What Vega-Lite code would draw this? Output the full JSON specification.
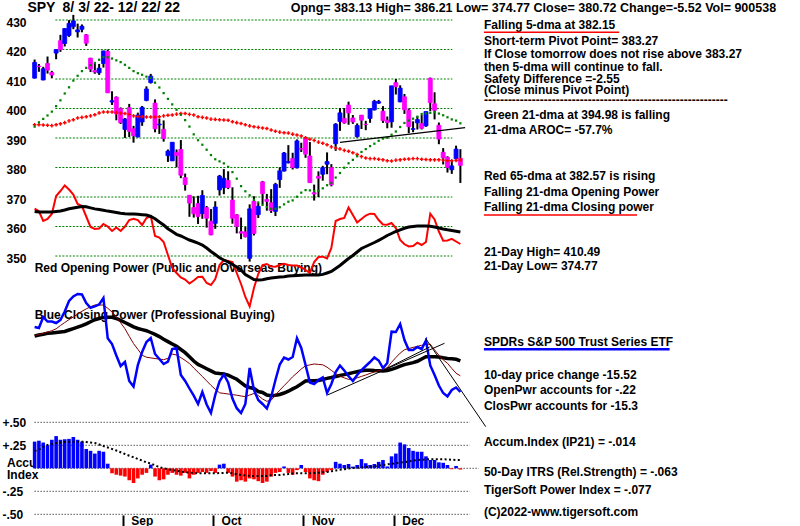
{
"$schema":"https://vega.github.io/schema/vega-lite/v6.json",
"width":800,"height":526,"padding":0,"autosize":{"type":"none"},
"background":"white",
"config":{"view":{"stroke":null},"text":{"font":"Liberation Sans"}},
"datasets":{
"bars":[
{"i":0,"o":410.30,"h":416.61,"l":410.17,"c":415.63,"m21":393.84,"m65":394.5,"op":5.13,"opm":4.85,"cp":7.3,"cpm":6.4,"cps":6.45,"ac":0.29,"acm":0.188},
{"i":1,"o":414.37,"h":415.09,"l":412.44,"c":414.17,"m21":395.32,"m65":394.5,"op":4.87,"opm":4.8,"cp":7.2,"cpm":6.5,"cps":6.55,"ac":0.30,"acm":0.204},
{"i":2,"o":409.66,"h":414.15,"l":409.60,"c":413.47,"m21":396.48,"m65":394.4,"op":3.9,"opm":4.8,"cp":8.3,"cpm":6.58,"cps":6.67,"ac":0.28,"acm":0.232},
{"i":3,"o":415.25,"h":417.62,"l":411.83,"c":412.99,"m21":397.64,"m65":394.3,"op":4.1,"opm":4.8,"cp":7.85,"cpm":6.67,"cps":6.8,"ac":0.25,"acm":0.253},
{"i":4,"o":412.22,"h":412.75,"l":410.22,"c":411.35,"m21":398.93,"m65":394.2,"op":4.6,"opm":4.8,"cp":7.85,"cpm":6.7,"cps":6.93,"ac":0.31,"acm":0.264},
{"i":5,"o":418.78,"h":420.03,"l":416.70,"c":419.99,"m21":400.80,"m65":394.5,"op":6.4,"opm":4.85,"cp":7.7,"cpm":6.75,"cps":7.12,"ac":0.35,"acm":0.273},
{"i":6,"o":422.99,"h":424.96,"l":419.21,"c":419.99,"m21":402.76,"m65":394.8,"op":6.9,"opm":4.9,"cp":8.0,"cpm":6.8,"cps":7.45,"ac":0.31,"acm":0.28},
{"i":7,"o":422.03,"h":427.21,"l":421.03,"c":427.10,"m21":405.10,"m65":395.2,"op":7.45,"opm":5.0,"cp":8.85,"cpm":6.85,"cps":7.75,"ac":0.315,"acm":0.286},
{"i":8,"o":424.77,"h":429.96,"l":424.28,"c":428.86,"m21":407.18,"m65":395.8,"op":7.05,"opm":5.12,"cp":9.9,"cpm":7.0,"cps":8.04,"ac":0.32,"acm":0.289},
{"i":9,"o":427.73,"h":431.73,"l":426.88,"c":429.70,"m21":409.46,"m65":396.2,"op":6.55,"opm":5.2,"cp":10.35,"cpm":7.14,"cps":8.3,"ac":0.34,"acm":0.289},
{"i":10,"o":425.98,"h":428.77,"l":424.07,"c":426.65,"m21":411.09,"m65":396.8,"op":5.6,"opm":5.28,"cp":10.6,"cpm":7.29,"cps":8.6,"ac":0.31,"acm":0.289},
{"i":11,"o":426.86,"h":428.49,"l":425.84,"c":427.89,"m21":412.67,"m65":397.0,"op":5.4,"opm":5.34,"cp":10.55,"cpm":7.43,"cps":8.87,"ac":0.29,"acm":0.289},
{"i":12,"o":424.98,"h":425.26,"l":421.22,"c":422.14,"m21":413.78,"m65":397.2,"op":4.35,"opm":5.32,"cp":9.7,"cpm":7.61,"cps":9.11,"ac":0.21,"acm":0.286},
{"i":13,"o":417.05,"h":417.19,"l":412.39,"c":413.35,"m21":414.65,"m65":397.5,"op":3.3,"opm":5.21,"cp":9.22,"cpm":7.83,"cps":9.33,"ac":0.19,"acm":0.28},
{"i":14,"o":412.90,"h":415.42,"l":411.77,"c":412.35,"m21":415.45,"m65":397.9,"op":3.1,"opm":5.11,"cp":9.36,"cpm":8.03,"cps":9.5,"ac":0.16,"acm":0.275},
{"i":15,"o":412.11,"h":415.11,"l":411.39,"c":413.67,"m21":416.53,"m65":398.5,"op":3.15,"opm":5.04,"cp":9.55,"cpm":8.15,"cps":9.5,"ac":0.19,"acm":0.259},
{"i":16,"o":415.24,"h":419.56,"l":413.88,"c":419.51,"m21":417.41,"m65":398.8,"op":3.6,"opm":4.97,"cp":10.2,"cpm":8.26,"cps":9.5,"ac":0.18,"acm":0.242},
{"i":17,"o":419.39,"h":419.96,"l":405.25,"c":405.31,"m21":417.38,"m65":398.8,"op":3.35,"opm":4.89,"cp":6.17,"cpm":8.27,"cps":9.17,"ac":0.05,"acm":0.226},
{"i":18,"o":402.20,"h":405.84,"l":401.20,"c":402.63,"m21":416.93,"m65":398.8,"op":2.9,"opm":4.82,"cp":5.6,"cpm":8.27,"cps":8.8,"ac":-0.054,"acm":0.21},
{"i":19,"o":403.85,"h":404.10,"l":396.00,"c":398.21,"m21":416.33,"m65":398.6,"op":3.25,"opm":4.75,"cp":4.45,"cpm":8.15,"cps":8.32,"ac":-0.07,"acm":0.193},
{"i":20,"o":399.92,"h":400.38,"l":394.75,"c":395.18,"m21":415.72,"m65":398.4,"op":2.9,"opm":4.68,"cp":3.4,"cpm":7.96,"cps":7.72,"ac":-0.08,"acm":0.174},
{"i":21,"o":392.89,"h":396.78,"l":390.04,"c":396.42,"m21":414.81,"m65":398.3,"op":3.35,"opm":4.62,"cp":3.8,"cpm":7.75,"cps":7.13,"ac":-0.09,"acm":0.155},
{"i":22,"o":400.28,"h":401.56,"l":390.33,"c":392.24,"m21":413.76,"m65":398.0,"op":4.0,"opm":4.61,"cp":1.9,"cpm":7.54,"cps":6.37,"ac":-0.13,"acm":0.137},
{"i":23,"o":393.13,"h":394.12,"l":388.42,"c":390.76,"m21":412.68,"m65":397.5,"op":4.13,"opm":4.59,"cp":1.35,"cpm":7.32,"cps":5.64,"ac":-0.16,"acm":0.12},
{"i":24,"o":390.37,"h":398.59,"l":390.20,"c":397.78,"m21":411.96,"m65":397.3,"op":4.0,"opm":4.57,"cp":3.5,"cpm":7.15,"cps":5.07,"ac":-0.11,"acm":0.101},
{"i":25,"o":395.43,"h":400.86,"l":394.12,"c":400.38,"m21":411.43,"m65":397.2,"op":3.5,"opm":4.53,"cp":4.8,"cpm":7.04,"cps":4.48,"ac":-0.07,"acm":0.084},
{"i":26,"o":402.74,"h":407.51,"l":402.46,"c":406.60,"m21":410.80,"m65":397.1,"op":4.2,"opm":4.49,"cp":5.8,"cpm":6.93,"cps":4.28,"ac":-0.05,"acm":0.065},
{"i":27,"o":408.78,"h":411.73,"l":408.46,"c":410.97,"m21":410.37,"m65":397.1,"op":4.4,"opm":4.35,"cp":6.2,"cpm":6.75,"cps":4.21,"ac":0.04,"acm":0.051},
{"i":28,"o":401.83,"h":403.10,"l":391.93,"c":393.10,"m21":408.75,"m65":397.1,"op":2.4,"opm":4.12,"cp":4.6,"cpm":6.56,"cps":4.15,"ac":-0.09,"acm":0.033},
{"i":29,"o":394.47,"h":396.55,"l":391.38,"c":394.69,"m21":407.12,"m65":397.2,"op":2.25,"opm":3.8,"cp":4.1,"cpm":6.34,"cps":4.09,"ac":-0.13,"acm":0.014},
{"i":30,"o":392.96,"h":395.96,"l":388.77,"c":389.79,"m21":405.22,"m65":397.5,"op":1.8,"opm":3.5,"cp":3.6,"cpm":6.08,"cps":4.03,"ac":-0.12,"acm":-0.001},
{"i":31,"o":384.00,"h":386.10,"l":381.90,"c":385.56,"m21":403.26,"m65":397.7,"op":0.5,"opm":3.13,"cp":3.83,"cpm":5.84,"cps":4.17,"ac":-0.07,"acm":-0.01},
{"i":32,"o":382.26,"h":388.55,"l":382.18,"c":388.55,"m21":401.39,"m65":397.8,"op":-0.8,"opm":2.85,"cp":5.1,"cpm":5.6,"cps":4.6,"ac":-0.05,"acm":-0.02},
{"i":33,"o":385.06,"h":386.12,"l":380.07,"c":384.09,"m21":399.58,"m65":398.1,"op":-1.3,"opm":2.57,"cp":5.2,"cpm":5.37,"cps":4.5,"ac":-0.07,"acm":-0.027},
{"i":34,"o":386.11,"h":389.31,"l":376.38,"c":377.39,"m21":397.87,"m65":398.3,"op":-1.75,"opm":2.4,"cp":2.5,"cpm":5.05,"cps":4.24,"ac":-0.08,"acm":-0.035},
{"i":35,"o":376.58,"h":377.95,"l":372.17,"c":374.22,"m21":396.05,"m65":398.3,"op":-1.95,"opm":2.2,"cp":1.9,"cpm":4.73,"cps":3.96,"ac":-0.05,"acm":-0.042},
{"i":36,"o":370.58,"h":370.62,"l":363.29,"c":367.95,"m21":393.87,"m65":398.0,"op":-2.35,"opm":2.0,"cp":1.15,"cpm":4.32,"cps":3.65,"ac":-0.11,"acm":-0.048},
{"i":37,"o":366.41,"h":370.21,"l":363.03,"c":364.31,"m21":391.24,"m65":397.8,"op":-2.05,"opm":1.85,"cp":0.43,"cpm":3.9,"cps":3.2,"ac":-0.07,"acm":-0.051},
{"i":38,"o":367.76,"h":370.40,"l":360.87,"c":363.38,"m21":389.25,"m65":397.2,"op":-1.7,"opm":1.68,"cp":-0.4,"cpm":3.56,"cps":2.78,"ac":-0.05,"acm":-0.053},
{"i":39,"o":364.38,"h":372.30,"l":362.60,"c":370.53,"m21":387.72,"m65":397.0,"op":-1.67,"opm":1.5,"cp":0.8,"cpm":3.35,"cps":2.35,"ac":-0.04,"acm":-0.054},
{"i":40,"o":366.39,"h":366.96,"l":359.62,"c":362.79,"m21":386.03,"m65":396.8,"op":-2.3,"opm":1.2,"cp":-0.45,"cpm":3.13,"cps":1.91,"ac":-0.05,"acm":-0.054},
{"i":41,"o":361.80,"h":365.91,"l":357.04,"c":357.18,"m21":384.22,"m65":396.4,"op":-2.5,"opm":0.85,"cp":-1.3,"cpm":2.91,"cps":1.47,"ac":-0.03,"acm":-0.054},
{"i":42,"o":361.08,"h":368.55,"l":359.21,"c":366.61,"m21":382.80,"m65":396.3,"op":-1.9,"opm":0.55,"cp":0.5,"cpm":2.69,"cps":1.07,"ac":-0.05,"acm":-0.054},
{"i":43,"o":372.40,"h":377.49,"l":370.49,"c":377.09,"m21":382.08,"m65":396.2,"op":-0.5,"opm":0.22,"cp":1.87,"cpm":2.64,"cps":0.72,"ac":0.04,"acm":-0.052},
{"i":44,"o":373.17,"h":379.46,"l":370.95,"c":376.35,"m21":381.40,"m65":396.1,"op":0,"opm":0,"cp":2.55,"cpm":2.61,"cps":0.66,"ac":0.05,"acm":-0.05},
{"i":45,"o":375.62,"h":378.72,"l":372.68,"c":373.20,"m21":380.23,"m65":396.0,"op":-0.1,"opm":-0.2,"cp":1.75,"cpm":2.49,"cps":0.6,"ac":-0.05,"acm":-0.048},
{"i":46,"o":368.97,"h":373.29,"l":360.94,"c":362.79,"m21":378.44,"m65":395.5,"op":-0.2,"opm":-0.45,"cp":0.15,"cpm":2.28,"cps":0.54,"ac":-0.09,"acm":-0.054},
{"i":47,"o":363.96,"h":364.21,"l":357.67,"c":360.02,"m21":376.22,"m65":395.2,"op":-1.3,"opm":-0.7,"cp":-0.82,"cpm":2.07,"cps":0.48,"ac":-0.145,"acm":-0.064},
{"i":48,"o":358.24,"h":363.03,"l":355.71,"c":357.74,"m21":373.68,"m65":394.9,"op":-2.4,"opm":-1.0,"cp":-1.3,"cpm":1.73,"cps":0.4,"ac":-0.13,"acm":-0.072},
{"i":49,"o":358.17,"h":359.82,"l":356.30,"c":356.56,"m21":371.94,"m65":394.5,"op":-3.7,"opm":-1.45,"cp":-0.4,"cpm":1.4,"cps":0.34,"ac":-0.145,"acm":-0.077},
{"i":50,"o":349.21,"h":367.51,"l":348.11,"c":365.97,"m21":370.57,"m65":394.1,"op":-4.65,"opm":-1.7,"cp":3.2,"cpm":1.25,"cps":0.5,"ac":-0.11,"acm":-0.082},
{"i":51,"o":368.55,"h":370.26,"l":356.96,"c":357.63,"m21":369.04,"m65":393.8,"op":-2.8,"opm":-1.95,"cp":1.0,"cpm":1.15,"cps":0.65,"ac":-0.12,"acm":-0.084},
{"i":52,"o":364.01,"h":367.98,"l":362.90,"c":366.82,"m21":368.15,"m65":393.6,"op":-1.4,"opm":-2.0,"cp":0,"cpm":0.85,"cps":0.45,"ac":-0.14,"acm":-0.084},
{"i":53,"o":375.13,"h":375.45,"l":367.52,"c":371.13,"m21":367.32,"m65":393.4,"op":-0.5,"opm":-1.97,"cp":-0.4,"cpm":0.75,"cps":0.1,"ac":-0.16,"acm":-0.084},
{"i":54,"o":369.20,"h":371.06,"l":365.36,"c":368.50,"m21":366.58,"m65":393.2,"op":-0.4,"opm":-1.87,"cp":-0.85,"cpm":0.5,"cps":-0.13,"ac":-0.145,"acm":-0.084},
{"i":55,"o":368.03,"h":372.67,"l":364.61,"c":365.41,"m21":366.01,"m65":392.7,"op":-0.65,"opm":-1.8,"cp":0.3,"cpm":0.43,"cps":-0.02,"ac":-0.09,"acm":-0.075},
{"i":56,"o":365.12,"h":374.80,"l":363.54,"c":374.29,"m21":366.01,"m65":392.3,"op":-0.67,"opm":-1.75,"cp":2.0,"cpm":0.47,"cps":0.5,"ac":-0.05,"acm":-0.073},
{"i":57,"o":375.89,"h":380.06,"l":373.11,"c":378.87,"m21":366.53,"m65":392.0,"op":-0.5,"opm":-1.7,"cp":3.55,"cpm":0.55,"cps":0.98,"ac":-0.04,"acm":-0.073},
{"i":58,"o":378.79,"h":385.25,"l":378.67,"c":384.92,"m21":367.51,"m65":391.8,"op":-0.37,"opm":-1.67,"cp":4.25,"cpm":0.7,"cps":1.43,"ac":0.02,"acm":-0.067},
{"i":59,"o":381.62,"h":387.58,"l":381.35,"c":382.02,"m21":368.40,"m65":391.7,"op":-0.5,"opm":-1.6,"cp":4.05,"cpm":0.88,"cps":1.86,"ac":-0.05,"acm":-0.062},
{"i":60,"o":383.07,"h":385.00,"l":379.33,"c":379.98,"m21":368.85,"m65":391.3,"op":-0.55,"opm":-1.57,"cp":4.3,"cpm":1.11,"cps":2.33,"ac":-0.07,"acm":-0.057},
{"i":61,"o":379.87,"h":389.52,"l":379.68,"c":389.02,"m21":370.10,"m65":391.0,"op":-0.55,"opm":-1.55,"cp":6.17,"cpm":1.32,"cps":2.7,"ac":-0.02,"acm":-0.054},
{"i":62,"o":386.44,"h":388.40,"l":385.26,"c":386.21,"m21":371.48,"m65":390.7,"op":-0.75,"opm":-1.53,"cp":5.2,"cpm":1.61,"cps":3.1,"ac":0.036,"acm":-0.054},
{"i":63,"o":390.14,"h":390.39,"l":383.29,"c":384.52,"m21":372.34,"m65":390.1,"op":-1.0,"opm":-1.51,"cp":3.5,"cpm":1.9,"cps":3.42,"ac":-0.04,"acm":-0.054},
{"i":64,"o":383.90,"h":388.63,"l":374.76,"c":374.87,"m21":372.23,"m65":389.6,"op":-1.3,"opm":-1.5,"cp":1.75,"cpm":1.93,"cps":3.51,"ac":-0.11,"acm":-0.054},
{"i":65,"o":371.47,"h":374.20,"l":368.79,"c":371.01,"m21":371.98,"m65":389.2,"op":-0.2,"opm":-1.5,"cp":1.6,"cpm":1.93,"cps":3.6,"ac":-0.13,"acm":-0.051},
{"i":66,"o":377.00,"h":378.70,"l":370.00,"c":376.35,"m21":372.13,"m65":388.6,"op":0.3,"opm":-1.5,"cp":2.0,"cpm":1.94,"cps":3.56,"ac":-0.14,"acm":-0.048},
{"i":67,"o":377.71,"h":380.57,"l":375.53,"c":379.95,"m21":372.94,"m65":388.2,"op":0.33,"opm":-1.44,"cp":2.25,"cpm":2.05,"cps":3.52,"ac":-0.07,"acm":-0.043},
{"i":68,"o":381.11,"h":385.12,"l":377.72,"c":382.00,"m21":373.99,"m65":387.7,"op":0.15,"opm":-1.3,"cp":0.7,"cpm":2.16,"cps":3.28,"ac":-0.04,"acm":-0.04},
{"i":69,"o":379.93,"h":381.14,"l":373.61,"c":374.13,"m21":374.77,"m65":387.0,"op":1.2,"opm":-1.15,"cp":1.6,"cpm":2.25,"cps":2.96,"ac":-0.02,"acm":-0.033},
{"i":70,"o":388.05,"h":395.04,"l":385.64,"c":394.69,"m21":376.59,"m65":386.6,"op":3.9,"opm":-0.85,"cp":2.8,"cpm":2.35,"cps":2.64,"ac":0.07,"acm":-0.024},
{"i":71,"o":395.59,"h":400.17,"l":392.43,"c":398.51,"m21":378.13,"m65":386.3,"op":4.1,"opm":-0.55,"cp":3.45,"cpm":2.45,"cps":2.38,"ac":0.05,"acm":-0.016},
{"i":72,"o":396.66,"h":400.18,"l":394.83,"c":395.12,"m21":379.92,"m65":385.8,"op":4.2,"opm":-0.2,"cp":2.95,"cpm":2.54,"cps":2.21,"ac":0.036,"acm":-0.01},
{"i":73,"o":401.15,"h":402.31,"l":394.49,"c":398.49,"m21":381.43,"m65":385.5,"op":5.25,"opm":0.15,"cp":2.37,"cpm":2.63,"cps":2.06,"ac":0.047,"acm":-0.002},
{"i":74,"o":396.78,"h":397.78,"l":394.79,"c":395.45,"m21":382.59,"m65":385.0,"op":4.5,"opm":0.45,"cp":1.9,"cpm":2.74,"cps":2.07,"ac":0.018,"acm":0.003},
{"i":75,"o":390.46,"h":394.95,"l":390.14,"c":394.24,"m21":383.81,"m65":384.4,"op":3.75,"opm":0.8,"cp":2.5,"cpm":2.83,"cps":2.22,"ac":0.036,"acm":0.007},
{"i":76,"o":397.74,"h":397.81,"l":393.04,"c":396.03,"m21":385.27,"m65":383.7,"op":4.1,"opm":1.15,"cp":3.0,"cpm":2.92,"cps":2.36,"ac":0.1,"acm":0.011},
{"i":77,"o":394.64,"h":395.82,"l":392.66,"c":394.59,"m21":386.24,"m65":383.2,"op":4.45,"opm":1.35,"cp":3.4,"cpm":2.98,"cps":2.5,"ac":0.055,"acm":0.014},
{"i":78,"o":396.63,"h":400.07,"l":395.15,"c":399.90,"m21":387.24,"m65":383.0,"op":4.63,"opm":1.55,"cp":3.8,"cpm":2.98,"cps":2.66,"ac":0.036,"acm":0.017},
{"i":79,"o":399.55,"h":402.93,"l":399.31,"c":402.42,"m21":388.07,"m65":383.0,"op":4.6,"opm":1.75,"cp":4.25,"cpm":2.95,"cps":2.8,"ac":0.047,"acm":0.023},
{"i":80,"o":401.83,"h":402.91,"l":401.54,"c":402.33,"m21":389.04,"m65":382.8,"op":4.0,"opm":1.97,"cp":3.95,"cpm":2.93,"cps":2.95,"ac":0.07,"acm":0.029},
{"i":81,"o":399.09,"h":400.81,"l":395.11,"c":395.91,"m21":389.80,"m65":382.6,"op":3.55,"opm":2.2,"cp":3.2,"cpm":2.9,"cps":3.07,"ac":0.09,"acm":0.036},
{"i":82,"o":396.05,"h":397.30,"l":393.30,"c":395.23,"m21":390.09,"m65":382.3,"op":3.53,"opm":2.45,"cp":3.7,"cpm":2.95,"cps":3.23,"ac":0.02,"acm":0.042},
{"i":83,"o":395.49,"h":407.68,"l":393.48,"c":407.68,"m21":391.12,"m65":382.2,"op":3.7,"opm":2.65,"cp":6.83,"cpm":3.06,"cps":3.77,"ac":0.13,"acm":0.049},
{"i":84,"o":408.77,"h":410.00,"l":404.75,"c":407.38,"m21":392.20,"m65":382.5,"op":3.2,"opm":2.85,"cp":6.8,"cpm":3.21,"cps":4.25,"ac":0.16,"acm":0.055},
{"i":85,"o":402.25,"h":407.86,"l":402.14,"c":406.91,"m21":393.73,"m65":382.6,"op":2.0,"opm":3.02,"cp":7.6,"cpm":3.38,"cps":4.69,"ac":0.28,"acm":0.062},
{"i":86,"o":403.95,"h":404.93,"l":398.17,"c":399.59,"m21":395.09,"m65":382.8,"op":1.57,"opm":3.17,"cp":6.0,"cpm":3.54,"cps":5.03,"ac":0.26,"acm":0.068},
{"i":87,"o":399.42,"h":399.99,"l":391.64,"c":393.83,"m21":395.92,"m65":382.9,"op":1.35,"opm":3.3,"cp":5.0,"cpm":3.64,"cps":5.15,"ac":0.22,"acm":0.075},
{"i":88,"o":392.94,"h":395.64,"l":391.97,"c":393.16,"m21":396.55,"m65":383.0,"op":1.4,"opm":3.35,"cp":5.0,"cpm":3.74,"cps":5.26,"ac":0.19,"acm":0.084},
{"i":89,"o":395.14,"h":397.36,"l":392.87,"c":396.24,"m21":397.23,"m65":383.0,"op":1.73,"opm":3.4,"cp":5.3,"cpm":3.87,"cps":5.37,"ac":0.18,"acm":0.09},
{"i":90,"o":394.94,"h":397.76,"l":392.90,"c":393.28,"m21":398.14,"m65":382.8,"op":1.5,"opm":3.4,"cp":5.1,"cpm":4.1,"cps":5.47,"ac":0.18,"acm":0.093},
{"i":91,"o":394.11,"h":398.99,"l":393.80,"c":398.95,"m21":398.34,"m65":382.7,"op":1.8,"opm":3.4,"cp":5.95,"cpm":4.32,"cps":5.57,"ac":0.13,"acm":0.097},
{"i":92,"o":410.22,"h":410.49,"l":399.07,"c":401.97,"m21":398.51,"m65":382.6,"op":4.63,"opm":3.38,"cp":3.45,"cpm":4.33,"cps":5.58,"ac":0.09,"acm":0.098},
{"i":93,"o":401.61,"h":405.50,"l":396.31,"c":399.40,"m21":398.71,"m65":382.6,"op":4.05,"opm":3.3,"cp":2.5,"cpm":4.33,"cps":5.02,"ac":0.09,"acm":0.098},
{"i":94,"o":394.30,"h":395.25,"l":387.89,"c":389.63,"m21":398.29,"m65":382.6,"op":2.85,"opm":3.2,"cp":1.45,"cpm":4.29,"cps":4.47,"ac":0.065,"acm":0.098},
{"i":95,"o":385.18,"h":386.58,"l":381.04,"c":383.27,"m21":397.71,"m65":382.5,"op":1.93,"opm":3.1,"cp":0.7,"cpm":4.22,"cps":4.02,"ac":0.06,"acm":0.098},
{"i":96,"o":383.47,"h":383.82,"l":378.28,"c":380.02,"m21":397.03,"m65":382.3,"op":1.95,"opm":3.02,"cp":0.35,"cpm":4.16,"cps":3.67,"ac":0.036,"acm":0.096},
{"i":97,"o":379.23,"h":382.23,"l":377.85,"c":380.54,"m21":396.30,"m65":382.3,"op":2.11,"opm":2.95,"cp":1.0,"cpm":4.12,"cps":3.16,"ac":-0.01,"acm":0.093},
{"i":98,"o":382.98,"h":387.41,"l":382.66,"c":386.23,"m21":395.90,"m65":382.4,"op":1.85,"opm":2.88,"cp":1.25,"cpm":4.07,"cps":2.68,"ac":0.025,"acm":0.09},
{"i":99,"o":383.13,"h":386.21,"l":374.77,"c":380.72,"m21":394.98,"m65":382.57,"op":1.6,"opm":2.8,"cp":0.8,"cpm":3.92,"cps":2.42,"ac":-0.014,"acm":0.09}
],
"grid":[{"i":4.82,"i2":97.13,"p":350},{"i":4.82,"i2":97.13,"p":360},{"i":4.82,"i2":97.13,"p":370},{"i":4.82,"i2":97.13,"p":380},{"i":4.82,"i2":97.13,"p":390},{"i":4.82,"i2":97.13,"p":400},{"i":4.82,"i2":97.13,"p":410},{"i":4.82,"i2":97.13,"p":420},{"i":4.82,"i2":97.13,"p":430}],
"accref":[{"i":0,"i2":101.2,"v":0.5},{"i":0,"i2":101.2,"v":0.25},{"i":0,"i2":103.3,"v":0},{"i":0,"i2":101.2,"v":-0.25},{"i":0,"i2":101.2,"v":-0.5}],
"ltext":[{"i":0,"p":345.83,"t":"Red Opening Power (Public and Overseas Buying)"},{"i":0,"p":330.0,"t":"Blue Closing Power (Professional Buying)"},{"i":-6.43,"p":279.73,"t":"Accu"},{"i":-6.43,"p":275.76,"t":"Index"}],
"spytext":[{"i":-1.68,"p":434.2,"t":"SPY"},{"i":6.5,"p":434.2,"t":"8/ 3/ 22- 12/ 22/ 22"}],
"toptext":[{"i":59.54,"p":434.2,"t":"Opng= 383.13 High= 386.21 Low= 374.77 Close= 380.72 Change=-5.52 Vol= 900538"}],
"rtext":[
{"i":104.47,"p":428.31,"t":"Falling 5-dma at 382.15"},
{"i":104.47,"p":422.88,"t":"Short-term Pivot Point= 383.27"},
{"i":104.47,"p":418.47,"t":"If Close tomorrow does not rise above 383.27"},
{"i":104.47,"p":414.17,"t":"then 5-dma will continue to fall."},
{"i":104.47,"p":410.10,"t":"Safety Difference =-2.55"},
{"i":104.47,"p":406.37,"t":" (Close minus Pivot Point)"},
{"i":104.47,"p":403.0,"t":"-------------------------------------------------------------"},
{"i":104.47,"p":397.80,"t":"Green 21-dma at  394.98 is falling"},
{"i":104.47,"p":392.71,"t":"21-dma AROC= -57.7%"},
{"i":104.47,"p":377.12,"t":"Red 65-dma at  382.57 is rising"},
{"i":104.47,"p":371.69,"t":"Falling 21-dma Opening Power"},
{"i":104.47,"p":366.61,"t":"Falling 21-dma Closing power"},
{"i":104.47,"p":351.36,"t":"21-Day High= 410.49"},
{"i":104.47,"p":346.61,"t":"21-Day Low= 374.77"},
{"i":104.47,"p":320.95,"t":"SPDRs S&P 500 Trust Series ETF"},
{"i":104.47,"p":309.66,"t":"  10-day price change -15.52"},
{"i":104.47,"p":304.58,"t":"  OpenPwr accounts for -.22"},
{"i":104.47,"p":299.25,"t":"  ClosPwr accounts for -15.3"},
{"i":104.47,"p":287.05,"t":"Accum.Index (IP21) = -.014"},
{"i":104.47,"p":276.88,"t":"50-Day ITRS (Rel.Strength) = -.063"},
{"i":104.47,"p":270.68,"t":"TigerSoft Power Index = -.077"},
{"i":104.47,"p":263.32,"t":"(C)2022-www.tigersoft.com"}
],
"uline":[{"i":104.47,"i2":135.94,"p":425.83,"k":"r"},{"i":104.47,"i2":140.07,"p":363.9,"k":"r"},{"i":104.47,"i2":147.65,"p":318.37,"k":"b"}],
"ptrend":[{"i":71.0,"p":388.54},{"i":100.1,"p":393.49}],
"cptrend":[{"g":1,"i":68.1,"v":0.5},{"g":1,"i":95.3,"v":5.67},{"g":2,"i":81.9,"v":3.17},{"g":2,"i":91.85,"v":5.3},{"g":3,"i":90.9,"v":6.17},{"g":3,"i":104.9,"v":-2.67}]
},
"encoding":{"x":{"field":"i","type":"quantitative","scale":{"domain":[-6.889,176.81],"nice":false,"zero":false},
 "axis":{"orient":"bottom","offset":-11,"values":[20.5,41.5,62.5,83.5],"labelExpr":"datum.value < 30 ? 'Sep' : datum.value < 50 ? 'Oct' : datum.value < 70 ? 'Nov' : 'Dec'","domain":false,"grid":false,"ticks":true,"tickSize":11,"tickWidth":2,"tickColor":"black","labelAlign":"left","labelBaseline":"middle","labelPadding":-6,"labelOffset":8,"labelFont":"Liberation Sans","labelFontSize":12,"labelFontWeight":"bold","labelColor":"black","labelFlush":false,"labelOverlap":false,"title":null}}},
"layer":[
{"data":{"name":"grid"},"mark":{"type":"rule","color":"#008000","strokeWidth":1,"strokeDash":[2,1.5]},
 "encoding":{"x2":{"field":"i2"},"y":{"field":"p","type":"quantitative","scale":{"domain":[258.475,436.78],"nice":false,"zero":false},
  "axis":{"orient":"left","offset":-6,"values":[350,360,370,380,390,400,410,420,430],"domain":false,"ticks":false,"tickSize":0,"grid":false,"labelAlign":"left","labelBaseline":"middle","labelPadding":0,"labelOffset":2,"labelFont":"Liberation Sans","labelFontSize":12,"labelFontWeight":"bold","labelColor":"black","labelFlush":false,"labelOverlap":false,"title":null}}}},
{"data":{"name":"accref"},"mark":{"type":"rule","color":"black","strokeWidth":1,"strokeDash":[1,2]},
 "encoding":{"x2":{"field":"i2"},"y":{"field":"v","type":"quantitative","scale":{"domain":[-0.6272,5.0902],"nice":false,"zero":false},
  "axis":{"orient":"left","offset":-2,"values":[0.5,0.25,-0.25,-0.5],"labelExpr":"(datum.value > 0 ? '+' : '-') + (abs(datum.value) > 0.4 ? '.50' : '.25')","domain":false,"ticks":false,"tickSize":0,"grid":false,"labelAlign":"left","labelBaseline":"middle","labelPadding":0,"labelFont":"Liberation Sans","labelFontSize":12,"labelFontWeight":"bold","labelColor":"black","labelFlush":false,"labelOverlap":false,"title":null}}}},
{"data":{"name":"ltext"},"mark":{"type":"text","align":"left","baseline":"middle","font":"Liberation Sans","fontSize":12,"fontWeight":"bold","color":"black"},
 "encoding":{"y":{"field":"p","type":"quantitative","scale":{"domain":[258.475,436.78],"nice":false,"zero":false},"axis":null},"text":{"field":"t"}}},
{"data":{"name":"bars"},"mark":{"type":"line","color":"#ff0000","strokeWidth":2},
 "encoding":{"y":{"field":"op","type":"quantitative","scale":{"domain":[-26.6,26],"nice":false,"zero":false},"axis":null}}},
{"data":{"name":"bars"},"mark":{"type":"line","color":"black","strokeWidth":3},
 "encoding":{"y":{"field":"opm","type":"quantitative","scale":{"domain":[-26.6,26],"nice":false,"zero":false},"axis":null}}},
{"data":{"name":"bars"},"mark":{"type":"line","color":"black","strokeWidth":3.5},
 "encoding":{"y":{"field":"cpm","type":"quantitative","scale":{"domain":[-12.6,40],"nice":false,"zero":false},"axis":null}}},
{"data":{"name":"bars"},"mark":{"type":"line","color":"#800000","strokeWidth":1},
 "encoding":{"y":{"field":"cps","type":"quantitative","scale":{"domain":[-12.6,40],"nice":false,"zero":false},"axis":null}}},
{"data":{"name":"bars"},"mark":{"type":"line","color":"#0000ff","strokeWidth":2.5},
 "encoding":{"y":{"field":"cp","type":"quantitative","scale":{"domain":[-12.6,40],"nice":false,"zero":false},"axis":null}}},
{"data":{"name":"cptrend"},"mark":{"type":"line","color":"black","strokeWidth":1},
 "encoding":{"detail":{"field":"g"},"y":{"field":"v","type":"quantitative","scale":{"domain":[-12.6,40],"nice":false,"zero":false},"axis":null}}},
{"data":{"name":"bars"},"mark":{"type":"rule","color":"black","strokeWidth":2},
 "encoding":{"y":{"field":"h","type":"quantitative","scale":{"domain":[258.475,436.78],"nice":false,"zero":false},"axis":null},"y2":{"field":"l"}}},
{"data":{"name":"bars"},"mark":{"type":"bar","width":4,"orient":"vertical","strokeWidth":0.8},
 "encoding":{"y":{"field":"o","type":"quantitative","scale":{"domain":[258.475,436.78],"nice":false,"zero":false},"axis":null},"y2":{"field":"c"},
  "color":{"condition":{"test":"datum.c >= datum.o","value":"#0000ff"},"value":"#ff00ff"},
  "stroke":{"condition":{"test":"datum.c >= datum.o","value":"#0000ff"},"value":"#ff00ff"}}},
{"data":{"name":"bars"},"mark":{"type":"point","shape":"cross","filled":true,"color":"#ff0000","size":13,"opacity":1},
 "encoding":{"y":{"field":"m65","type":"quantitative","scale":{"domain":[258.475,436.78],"nice":false,"zero":false},"axis":null}}},
{"data":{"name":"bars"},"mark":{"type":"point","shape":"square","filled":true,"color":"#008000","size":5,"opacity":1},
 "encoding":{"y":{"field":"m21","type":"quantitative","scale":{"domain":[258.475,436.78],"nice":false,"zero":false},"axis":null}}},
{"data":{"name":"ptrend"},"mark":{"type":"line","color":"black","strokeWidth":1.2},
 "encoding":{"y":{"field":"p","type":"quantitative","scale":{"domain":[258.475,436.78],"nice":false,"zero":false},"axis":null}}},
{"data":{"name":"bars"},"mark":{"type":"bar","width":3.6,"orient":"vertical"},
 "encoding":{"y":{"field":"ac","type":"quantitative","scale":{"domain":[-0.6272,5.0902],"nice":false,"zero":false},"axis":null},"y2":{"datum":0},
  "color":{"condition":{"test":"datum.ac >= 0","value":"#0000ff"},"value":"#ff0000"}}},
{"data":{"name":"bars"},"mark":{"type":"line","color":"black","strokeWidth":2,"strokeDash":[2,2.4]},
 "encoding":{"y":{"field":"acm","type":"quantitative","scale":{"domain":[-0.6272,5.0902],"nice":false,"zero":false},"axis":null}}},
{"data":{"name":"spytext"},"mark":{"type":"text","align":"left","baseline":"middle","font":"Liberation Sans","fontSize":14,"fontWeight":"bold","color":"black"},
 "encoding":{"y":{"field":"p","type":"quantitative","scale":{"domain":[258.475,436.78],"nice":false,"zero":false},"axis":null},"text":{"field":"t"}}},
{"data":{"name":"toptext"},"mark":{"type":"text","align":"left","baseline":"middle","font":"Liberation Sans","fontSize":12.5,"fontWeight":"bold","color":"black"},
 "encoding":{"y":{"field":"p","type":"quantitative","scale":{"domain":[258.475,436.78],"nice":false,"zero":false},"axis":null},"text":{"field":"t"}}},
{"data":{"name":"rtext"},"mark":{"type":"text","align":"left","baseline":"middle","font":"Liberation Sans","fontSize":12,"fontWeight":"bold","color":"black"},
 "encoding":{"y":{"field":"p","type":"quantitative","scale":{"domain":[258.475,436.78],"nice":false,"zero":false},"axis":null},"text":{"field":"t"}}},
{"data":{"name":"uline"},"mark":{"type":"rule"},
 "encoding":{"x2":{"field":"i2"},"y":{"field":"p","type":"quantitative","scale":{"domain":[258.475,436.78],"nice":false,"zero":false},"axis":null},
  "color":{"field":"k","type":"nominal","scale":{"domain":["r","b"],"range":["#ff0000","#0000ff"]},"legend":null},
  "strokeWidth":{"field":"k","type":"nominal","scale":{"domain":["r","b"],"range":[1.5,2.5]},"legend":null}}}
],
"resolve":{"scale":{"y":"independent"}}
}
